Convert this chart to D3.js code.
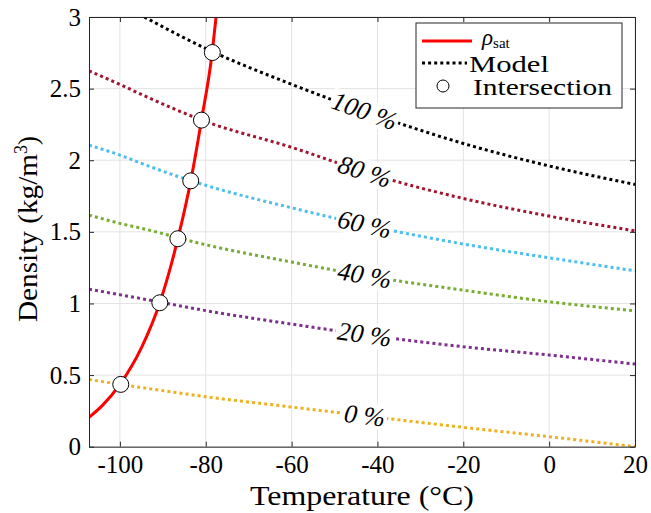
<!DOCTYPE html>
<html lang="en">
<head>
<meta charset="utf-8">
<script src="https://d3js.org/d3.v7.min.js"></script>
<style>
  body { margin: 0; background: #fff; }
  svg text { font-family: "Liberation Serif", "DejaVu Serif", serif; fill: #000; }
  .grid line { stroke: #e3e3e3; stroke-width: 1; }
  .axis path, .axis line { stroke: #262626; stroke-width: 1; }
</style>
</head>
<body>
<div id="main"></div>
<script>
var width = 651, height = 513;
var margin = {top: 17, right: 16, bottom: 66.3, left: 89};
var serif = "'Liberation Serif', 'DejaVu Serif', serif";

// x ticks / y ticks
var xTicks = [-100, -80, -60, -40, -20, 0, 20];
var yTicks = [0, 0.5, 1, 1.5, 2, 2.5, 3];

// saturation density curve
var satTemps = [-107.2, -104, -100, -95, -90.7, -86.5, -83.5, -81.0, -78.5, -77.6];
var satRho   = [0.205, 0.29, 0.435, 0.69, 1.005, 1.452, 1.856, 2.28, 2.752, 3.0];

// model curves at different relative humidity
var modelTemps = [-107.2, -100, -94.3, -80, -60, -40, -20, 0, 20];
var rh100 = [null, null, 3.0, 2.78, 2.53, 2.31, 2.117, 1.96, 1.831];
var rh80  = [2.624, 2.529, 2.45, 2.27, 2.09, 1.89, 1.733, 1.61, 1.507];
var rh60  = [2.105, 2.036, 1.97, 1.825, 1.668, 1.53, 1.415, 1.319, 1.228];
var rh40  = [1.617, 1.559, 1.52, 1.41, 1.289, 1.18, 1.093, 1.012, 0.949];
var rh20  = [1.10, 1.061, 1.03, 0.95, 0.856, 0.77, 0.698, 0.640, 0.577];
var rh0   = [0.470, 0.435, 0.41, 0.349, 0.277, 0.205, 0.135, 0.070, 0.0];
var modelLabels = ["100 %", "80 %", "60 %", "40 %", "20 %", "0 %"];
var modelColors = ["#000000", "#A2142F", "#4DBEEE", "#77AC30", "#7E2F8E", "#EDB120"];
var labelTemp = -43;

// intersections
var interTemps = [-99.8, -90.7, -86.5, -83.5, -81.0, -78.46];
var interRho   = [0.435, 1.005, 1.452, 1.856, 2.28, 2.752];

var models = [rh100, rh80, rh60, rh40, rh20, rh0];

var svg = d3.select("#main").append("svg")
    .attr("width", width)
    .attr("height", height);

var x = d3.scaleLinear().domain([-107.2, 20]).range([margin.left, width - margin.right]);
var y = d3.scaleLinear().domain([0, 3]).range([height - margin.bottom, margin.top]);

svg.append("defs").append("clipPath").attr("id", "clip")
  .append("rect")
    .attr("x", x.range()[0]).attr("y", y.range()[1])
    .attr("width", x.range()[1] - x.range()[0])
    .attr("height", y.range()[0] - y.range()[1]);

// grid
var grid = svg.append("g").attr("class", "grid");
grid.selectAll(".gx").data(xTicks).enter().append("line")
    .attr("x1", d => x(d)).attr("x2", d => x(d))
    .attr("y1", y.range()[0]).attr("y2", y.range()[1]);
grid.selectAll(".gy").data(yTicks).enter().append("line")
    .attr("y1", d => y(d)).attr("y2", d => y(d))
    .attr("x1", x.range()[0]).attr("x2", x.range()[1]);

var plot = svg.append("g").attr("clip-path", "url(#clip)");

// model lines
var line = d3.line()
    .defined(d => d[1] != null)
    .x(d => x(d[0])).y(d => y(d[1]))
    .curve(d3.curveMonotoneX);

models.forEach(function(vals, i) {
  plot.append("path")
    .datum(modelTemps.map((t, j) => [t, vals[j]]))
    .attr("fill", "none")
    .attr("stroke", modelColors[i])
    .attr("stroke-width", 3)
    .attr("stroke-dasharray", "3 3.1")
    .attr("d", line);
});

// inline labels with white background
models.forEach(function(vals, i) {
  var interp = d3.scaleLinear().domain(modelTemps.slice(2)).range(vals.slice(2));
  var px = x(labelTemp), py = y(interp(labelTemp));
  var ang = Math.atan2(y(interp(labelTemp + 5)) - y(interp(labelTemp - 5)),
                       x(labelTemp + 5) - x(labelTemp - 5)) * 180 / Math.PI;
  var g = svg.append("g").attr("transform", "translate(" + px + "," + py + ") rotate(" + ang + ")");
  var rect = g.append("rect").attr("fill", "#fff");
  var t = g.append("text")
    .attr("text-anchor", "middle")
    .attr("dominant-baseline", "central")
    .style("font-family", serif)
    .style("font-style", "italic")
    .style("font-size", "26px")
    .text(modelLabels[i]);
  var bb = t.node().getBBox();
  rect.attr("x", bb.x - 2).attr("y", bb.y + 2).attr("width", bb.width + 4).attr("height", bb.height - 4);
});

// saturation curve
plot.append("path")
  .datum(satTemps.map((t, j) => [t, satRho[j]]))
  .attr("fill", "none")
  .attr("stroke", "#ff0000")
  .attr("stroke-width", 3)
  .attr("d", d3.line().x(d => x(d[0])).y(d => y(d[1])).curve(d3.curveMonotoneX));

// intersection markers
svg.selectAll(".inter").data(interTemps).enter().append("circle")
  .attr("cx", d => x(d))
  .attr("cy", (d, i) => y(interRho[i]))
  .attr("r", 8)
  .attr("fill", "#fff")
  .attr("stroke", "#000")
  .attr("stroke-width", 1);

// axes
var h = y.range()[0], top0 = y.range()[1];
svg.append("g").attr("class", "axis").attr("transform", "translate(0," + h + ")")
  .call(d3.axisBottom(x).tickValues(xTicks).tickSizeInner(-5).tickSizeOuter(0).tickPadding(9).tickFormat(d => String(d)));
svg.append("g").attr("class", "axis").attr("transform", "translate(0," + top0 + ")")
  .call(d3.axisTop(x).tickValues(xTicks).tickSizeInner(-5).tickSizeOuter(0).tickFormat(""));
svg.append("g").attr("class", "axis").attr("transform", "translate(" + x.range()[0] + ",0)")
  .call(d3.axisLeft(y).tickValues(yTicks).tickSizeInner(-5).tickSizeOuter(0).tickPadding(8).tickFormat(d => String(d)));
svg.append("g").attr("class", "axis").attr("transform", "translate(" + x.range()[1] + ",0)")
  .call(d3.axisRight(y).tickValues(yTicks).tickSizeInner(-5).tickSizeOuter(0).tickFormat(""));
svg.selectAll(".axis text")
  .attr("fill", "#000")
  .attr("font-family", null)
  .attr("font-size", null)
  .style("font-family", serif)
  .style("font-size", "25px");

// axis titles
svg.append("text")
  .attr("x", 362).attr("y", 505)
  .attr("text-anchor", "middle")
  .attr("textLength", 224)
  .attr("lengthAdjust", "spacingAndGlyphs")
  .style("font-family", serif)
  .style("font-size", "27px")
  .text("Temperature (°C)");
var yl = svg.append("text")
  .attr("transform", "translate(37,229) rotate(-90)")
  .attr("text-anchor", "middle")
  .style("font-family", serif)
  .style("font-size", "27px");
yl.append("tspan").attr("textLength", 168).attr("lengthAdjust", "spacingAndGlyphs").text("Density (kg/m");
yl.append("tspan").attr("dy", -10).style("font-size", "18px").text("3");
yl.append("tspan").attr("dy", 10).text(")");

// legend
var lg = svg.append("g").attr("transform", "translate(416,23)");
lg.append("rect").attr("width", 206).attr("height", 85)
  .attr("fill", "#fff").attr("stroke", "#262626").attr("stroke-width", 1);
lg.append("line").attr("x1", 6).attr("x2", 56).attr("y1", 18).attr("y2", 18)
  .attr("stroke", "#ff0000").attr("stroke-width", 3);
var lt = lg.append("text").attr("x", 66).attr("y", 22).style("font-family", serif).style("font-size", "23px");
lt.append("tspan").style("font-style", "italic").text("ρ");
lt.append("tspan").attr("dy", 3).style("font-size", "15px").text("sat");
lg.append("line").attr("x1", 6).attr("x2", 51).attr("y1", 40).attr("y2", 40)
  .attr("stroke", "#000").attr("stroke-width", 3).attr("stroke-dasharray", "3 3.1");
lg.append("text").attr("x", 53).attr("y", 49).attr("textLength", 80).attr("lengthAdjust", "spacingAndGlyphs")
  .style("font-family", serif).style("font-size", "23px").text("Model");
lg.append("circle").attr("cx", 27).attr("cy", 63).attr("r", 6)
  .attr("fill", "#fff").attr("stroke", "#000").attr("stroke-width", 1);
lg.append("text").attr("x", 57).attr("y", 72).attr("textLength", 139).attr("lengthAdjust", "spacingAndGlyphs")
  .style("font-family", serif).style("font-size", "23px").text("Intersection");
</script>
</body>
</html>
